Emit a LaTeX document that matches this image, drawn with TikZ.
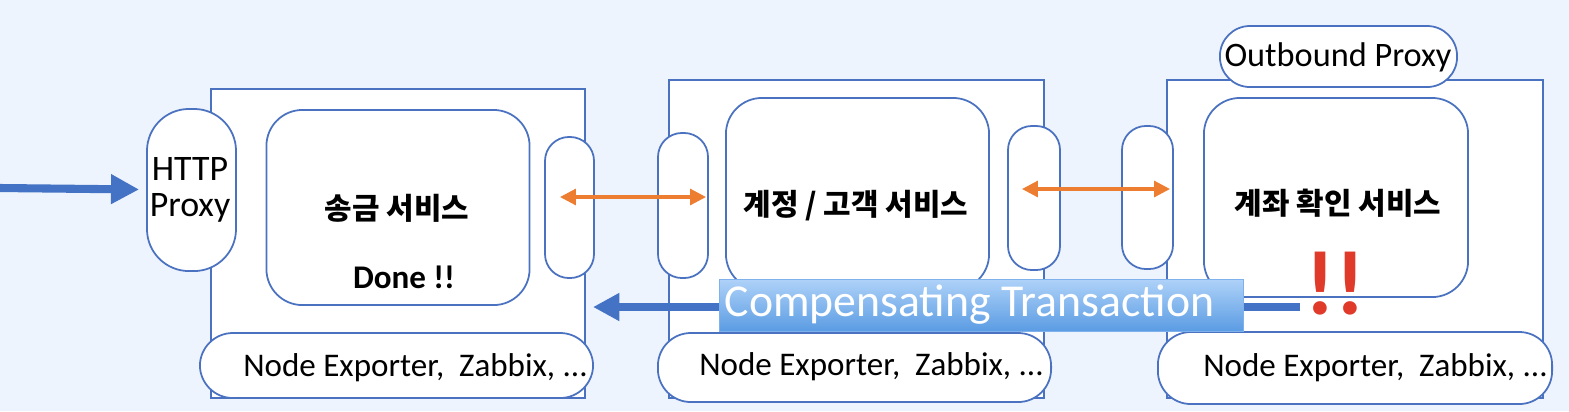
\documentclass[tikz,border=0pt]{standalone}
\usepackage{fontspec}
\setmainfont{Carlito}
\newfontfamily\krfont{Noto Sans CJK KR}
\usetikzlibrary{arrows.meta}
\definecolor{bgblue}{HTML}{EEF4FD}
\definecolor{lineblue}{HTML}{4A72C0}
\definecolor{arrowblue}{HTML}{4472C4}
\definecolor{orangeline}{HTML}{ED7D31}
\definecolor{alertred}{HTML}{E03A2A}
\definecolor{bannertop}{HTML}{AED2F8}
\definecolor{bannerbot}{HTML}{5A9BE3}
\definecolor{bannerline}{HTML}{7FB2EC}

\begin{document}
\begin{tikzpicture}[x=0.01cm,y=-0.01cm,
    frame/.style={draw=lineblue,line width=0.5pt,fill=white,inner sep=0pt},
    svc/.style={frame,rounded corners=0.36cm,minimum width=2.63cm},
    port/.style={frame,rounded corners=0.24cm,minimum width=0.5cm,minimum height=1.43cm},
    agent/.style={frame,rounded corners=0.33cm,minimum width=3.93cm,minimum height=0.69cm},
    krtext/.style={font=\krfont\bfseries\fontsize{8.5}{10}\selectfont},
    agtext/.style={font=\fontsize{9.4}{11}\selectfont},
    req/.style={arrowblue,line width=2.3pt,-{Triangle[length=8pt,width=8pt]}},
    call/.style={orangeline,line width=0.9pt,{Triangle[length=4.5pt,width=4.5pt]}-{Triangle[length=4.5pt,width=4.5pt]}}
  ]
    \fill[bgblue] (0,0) rectangle (1569,411);
    \useasboundingbox (0,0) rectangle (1569,411);

    % hosts
    \node[frame,minimum width=3.74cm,minimum height=3.09cm] (host1) at (398,243.5) {};
    \node[frame,minimum width=3.75cm,minimum height=3.18cm] (host2) at (856.5,239) {};
    \node[frame,minimum width=3.76cm,minimum height=3.18cm] (host3) at (1355,239) {};

    % services
    \node[svc,minimum height=1.95cm] (svc1) at (398,207.5) {};
    \node[svc,minimum height=1.92cm] (svc2) at (857.5,194) {};
    \node[svc,minimum width=2.64cm,minimum height=1.99cm] (svc3) at (1336,197.5) {};

    % sidecar proxies
    \node[frame,rounded corners=0.42cm,minimum width=0.89cm,minimum height=1.62cm] (http) at (191.5,190) {};
    \node[port,minimum width=0.49cm,minimum height=1.41cm] (port1r) at (569.5,207.5) {};
    \node[port,minimum height=1.45cm] (port2l) at (683,205.5) {};
    \node[port,minimum width=0.52cm,minimum height=1.44cm] (port2r) at (1034,198) {};
    \node[port,minimum width=0.51cm] (port3l) at (1147.5,197.5) {};
    \node[frame,rounded corners=0.3cm,minimum width=2.37cm,minimum height=0.61cm] (outbound) at (1338.5,56.5) {};

    % monitoring agents
    \node[agent,minimum height=0.65cm] (agent1) at (396.5,365.5) {};
    \node[agent] (agent2) at (854.5,367.5) {};
    \node[agent,minimum width=3.94cm,minimum height=0.72cm] (agent3) at (1355,368) {};

    % connectors
    \coordinate (client) at (0,188);
    \draw[req] (client) -- (http) [shorten >=0.07cm];

    \coordinate (c1a) at (560,197);
    \coordinate (c1b) at (706,197);
    \draw[call] (c1a) -- (c1b);
    \coordinate (c2a) at (1022,189);
    \coordinate (c2b) at (1170,189);
    \draw[call] (c2a) -- (c2b);

    \coordinate (fail) at (1300,307);
    \coordinate (undo) at (593,307);
    \draw[req,-{Triangle[length=7.5pt,width=7.5pt]}] (fail) -- (undo);

    \node[draw=bannerline,line width=0.4pt,top color=bannertop,bottom color=bannerbot,
          inner sep=0pt,minimum width=5.24cm,minimum height=0.52cm] (banner) at (981.5,305.5) {};

    % texts
    \node[align=center,font=\fontsize{10.2}{10.4}\selectfont] (httptext) at (190,190) {HTTP\\Proxy};
    \node[font=\fontsize{9.75}{11}\selectfont] (outtext) at (1338,57) {Outbound Proxy};
    \node[krtext] (svc1text) at (397,208) {송금 서비스};
    \node[font=\bfseries\fontsize{9.4}{11}\selectfont] (done) at (404,277) {Done !!};
    \node[krtext] (svc2text) at (856,206) {계정 / 고객 서비스};
    \node[krtext] (svc3text) at (1338,203) {계좌 확인 서비스};
    \foreach \n/\x/\y in {1/415.5/368, 2/871.5/367, 3/1375.5/368} {
        \node[agtext] (agtext\n) at (\x,\y) {Node Exporter,~~Zabbix, ...};
    }
    \node[white,font=\fontsize{13}{15}\selectfont] (comptext) at (969.5,305) {Compensating Transaction};
    \node[alertred,font=\bfseries\fontsize{26}{28}\selectfont] (alert) at (1335,284) {!!};
\end{tikzpicture}
\end{document}
